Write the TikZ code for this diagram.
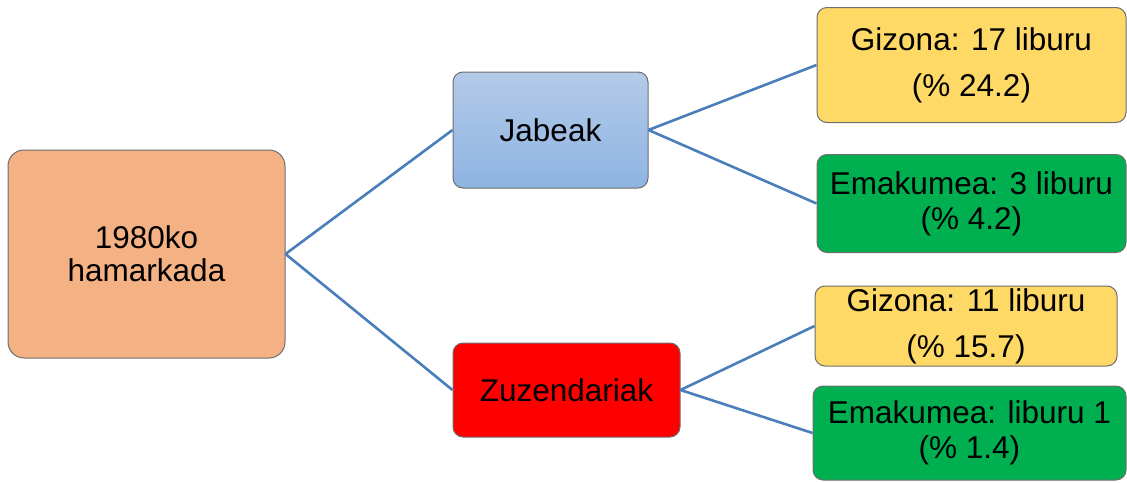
\documentclass[tikz,border=0pt]{standalone}
\usepackage{fontspec}
\setmainfont{Liberation Sans}
\usepackage{xcolor}
\definecolor{rootOrange}{HTML}{F4B183}
\definecolor{jabeakTop}{HTML}{B4CAE8}
\definecolor{jabeakBottom}{HTML}{8EB4E3}
\definecolor{zuzenRed}{HTML}{FF0000}
\definecolor{gizonaYellow}{HTML}{FFD966}
\definecolor{emakumeaGreen}{HTML}{00B050}
\definecolor{boxBorder}{HTML}{6E6E6E}
\definecolor{linkBlue}{HTML}{4A7EBB}
\tikzset{
    BoxBase/.style={draw=boxBorder, line width=1pt, rounded corners=10pt, inner sep=0pt, align=center, text=black},
    RootBox/.style={BoxBase, fill=rootOrange, rounded corners=16pt, font=\fontsize{31.5}{33}\selectfont},
    JabeakBox/.style={BoxBase, top color=jabeakTop, bottom color=jabeakBottom, font=\fontsize{31.5}{36}\selectfont},
    ZuzenBox/.style={BoxBase, fill=zuzenRed, font=\fontsize{31.5}{36}\selectfont},
    GizonaBox/.style={BoxBase, fill=gizonaYellow, font=\fontsize{31.5}{46}\selectfont},
    EmakumeaBox/.style={BoxBase, fill=emakumeaGreen, font=\fontsize{31.5}{35}\selectfont},
    LinkLine/.style={linkBlue, line width=2.6pt}
}

\begin{document}
\begin{tikzpicture}[x=1pt, y=-1pt]
    % marco de la imagen
    \useasboundingbox (0, 0) rectangle (1127, 482);

    % nodo raiz
    \node[RootBox, minimum width=277, minimum height=208] (root) at (146.5, 254) {1980ko\\hamarkada};

    % segundo nivel
    \node[JabeakBox, minimum width=195, minimum height=116] (jabeak) at (550.5, 130) {Jabeak};
    \node[ZuzenBox, minimum width=227, minimum height=94] (zuzen) at (566.5, 390) {Zuzendariak};

    % tercer nivel
    \node[GizonaBox, minimum width=309, minimum height=115] (jabGizona) at (971.5, 65) {Gizona: 17 liburu\\(\% 24.2)};
    \node[EmakumeaBox, minimum width=309, minimum height=98] (jabEmakumea) at (971.5, 203.5) {Emakumea: 3 liburu\\(\% 4.2)};
    \node[GizonaBox, minimum width=302, minimum height=80] (zuzGizona) at (966, 326) {Gizona: 11 liburu\\(\% 15.7)};
    \node[EmakumeaBox, minimum width=313, minimum height=94] (zuzEmakumea) at (969.5, 433) {Emakumea: liburu 1\\(\% 1.4)};

    % lineas
    \draw[LinkLine] (root.east) -- (jabeak.west);
    \draw[LinkLine] (root.east) -- (zuzen.west);
    \draw[LinkLine] (jabeak.east) -- (jabGizona.west);
    \draw[LinkLine] (jabeak.east) -- (jabEmakumea.west);
    \draw[LinkLine] (zuzen.east) -- (zuzGizona.west);
    \draw[LinkLine] (zuzen.east) -- (zuzEmakumea.west);
\end{tikzpicture}
\end{document}
